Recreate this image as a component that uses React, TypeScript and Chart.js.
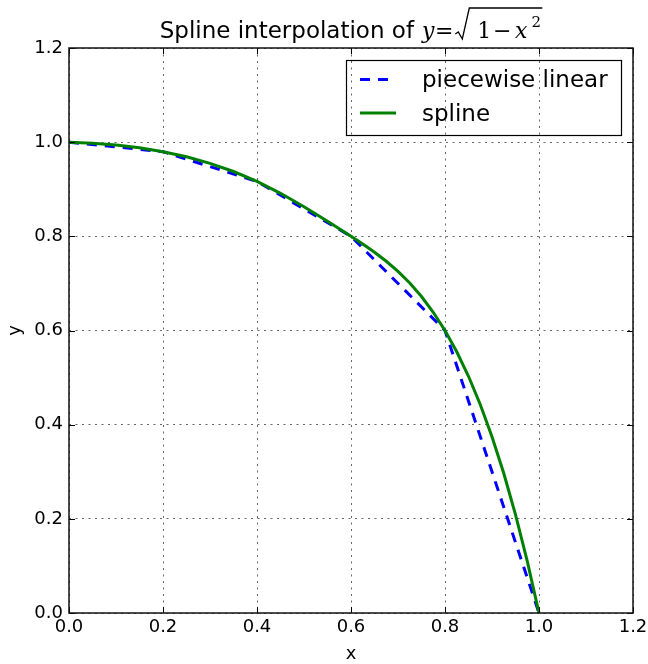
import React, { useEffect, useRef } from "react";
import { Chart, registerables } from "chart.js";

Chart.register(...registerables);

// ---- Text ----
const TITLE_TEXT = "Spline interpolation of ";
const X_LABEL = "x";
const Y_LABEL = "y";
const LEGEND_LABELS = ["piecewise linear", "spline"];

// ---- Data: sample nodes of y = sqrt(1 - x^2) (piecewise linear) ----
const nodeX = [0.0, 0.2, 0.4, 0.6, 0.8, 1.0];
const nodeY = [1.0, 0.9798, 0.9165, 0.8, 0.6, 0.0];

// ---- Data: spline curve ----
const splineX = [
  0.0, 0.05, 0.1, 0.15, 0.2, 0.25, 0.3, 0.35, 0.4, 0.45, 0.5, 0.55,
  0.6, 0.625, 0.65, 0.675, 0.7, 0.725, 0.75, 0.775,
  0.8, 0.825, 0.85, 0.875, 0.9, 0.925, 0.95, 0.975, 1.0,
];
const splineY = [
  1.0, 0.9977, 0.9938, 0.988, 0.9798, 0.9689, 0.955, 0.9377, 0.9165, 0.8914, 0.863, 0.8322,
  0.8, 0.7835, 0.7661, 0.747, 0.7255, 0.7008, 0.6722, 0.6388,
  0.6, 0.5549, 0.5028, 0.4429, 0.3745, 0.2967, 0.2089, 0.1103, 0.0,
];

// ---- Ticks ----
const tickValues = [0.0, 0.2, 0.4, 0.6, 0.8, 1.0, 1.2];
const tickLabels = ["0.0", "0.2", "0.4", "0.6", "0.8", "1.0", "1.2"];

const SANS = '"DejaVu Sans", sans-serif';
const SERIF = '"DejaVu Serif", serif';

export default function App() {
  const ref = useRef<HTMLCanvasElement>(null);

  useEffect(() => {
    const canvas = ref.current;
    if (!canvas) return;

    const framePlugin = {
      id: "frame",
      afterDraw(chart: any) {
        const { ctx, chartArea: a, scales } = chart;
        const xs = scales.x;
        const ys = scales.y;
        ctx.save();

        // inward ticks on all four sides
        ctx.strokeStyle = "#000";
        ctx.lineWidth = 1;
        ctx.setLineDash([]);
        ctx.beginPath();
        for (const v of tickValues) {
          const px = Math.round(xs.getPixelForValue(v)) + 0.5;
          ctx.moveTo(px, a.bottom);
          ctx.lineTo(px, a.bottom - 6);
          ctx.moveTo(px, a.top);
          ctx.lineTo(px, a.top + 6);
          const py = Math.round(ys.getPixelForValue(v)) + 0.5;
          ctx.moveTo(a.left, py);
          ctx.lineTo(a.left + 6, py);
          ctx.moveTo(a.right, py);
          ctx.lineTo(a.right - 6, py);
        }
        ctx.stroke();

        // frame
        ctx.lineWidth = 1.5;
        ctx.strokeStyle = "#111";
        ctx.strokeRect(a.left, a.top, a.right - a.left, a.bottom - a.top);

        // axis labels
        ctx.fillStyle = "#000";
        ctx.font = `18px ${SANS}`;
        ctx.textAlign = "center";
        ctx.textBaseline = "middle";
        ctx.fillText(X_LABEL, (a.left + a.right) / 2, 654);
        ctx.save();
        ctx.translate(15, (a.top + a.bottom) / 2);
        ctx.rotate(-Math.PI / 2);
        ctx.fillText(Y_LABEL, 0, 0);
        ctx.restore();

        // title with math part
        const cx = (a.left + a.right) / 2;
        const base = 38;
        ctx.font = `23px ${SANS}`;
        ctx.textAlign = "left";
        ctx.textBaseline = "alphabetic";
        const w1 = ctx.measureText(TITLE_TEXT).width;
        const mathW = 121;
        const start = cx - (w1 + mathW) / 2;
        ctx.fillText(TITLE_TEXT, start, base);
        const mx = start + w1;
        ctx.textAlign = "center";
        ctx.font = `italic 22px ${SERIF}`;
        ctx.fillText("y", mx + 7, base);
        ctx.font = `22px ${SERIF}`;
        ctx.fillText("=", mx + 23, base);
        ctx.fillText("1", mx + 63, base);
        ctx.fillText("\u2212", mx + 81, base);
        ctx.font = `italic 22px ${SERIF}`;
        ctx.fillText("x", mx + 100, base);
        ctx.font = `15px ${SERIF}`;
        ctx.fillText("2", mx + 115, base - 11);
        // radical sign + overline
        ctx.lineWidth = 1.3;
        ctx.strokeStyle = "#000";
        ctx.beginPath();
        ctx.moveTo(mx + 34, base - 4);
        ctx.lineTo(mx + 37, base - 6);
        ctx.lineTo(mx + 41, base + 1);
        ctx.lineTo(mx + 48, base - 30);
        ctx.lineTo(mx + 121, base - 30);
        ctx.stroke();

        // legend
        const lx = a.right - 287;
        const ly = a.top + 12;
        ctx.lineWidth = 1.2;
        ctx.strokeStyle = "#000";
        ctx.strokeRect(Math.round(lx) + 0.5, Math.round(ly) + 0.5, 275, 75);
        const sx = lx + 14;
        const rows = [
          { color: "#0000ff", dash: [10, 8], y: ly + 19.5 },
          { color: "#008000", dash: [] as number[], y: ly + 53 },
        ];
        rows.forEach((r, i) => {
          ctx.strokeStyle = r.color;
          ctx.lineWidth = 3;
          ctx.setLineDash(r.dash);
          ctx.beginPath();
          ctx.moveTo(sx, r.y);
          ctx.lineTo(sx + 36, r.y);
          ctx.stroke();
          ctx.setLineDash([]);
          ctx.fillStyle = "#000";
          ctx.font = `23px ${SANS}`;
          ctx.textAlign = "left";
          ctx.textBaseline = "alphabetic";
          ctx.fillText(LEGEND_LABELS[i], lx + 76, r.y + 7.5);
        });

        ctx.restore();
      },
    };

    const gridStyle = {
      color: "rgba(0,0,0,0.6)",
      lineWidth: 1,
      drawTicks: false,
      borderDash: [2, 4.5],
    };

    const chart = new Chart(canvas, {
      type: "line",
      data: {
        datasets: [
          {
            label: LEGEND_LABELS[1],
            data: splineX.map((x, i) => ({ x, y: splineY[i] })),
            borderColor: "#008000",
            backgroundColor: "#008000",
            borderWidth: 3,
            pointRadius: 0,
            tension: 0,
            fill: false,
            order: 0,
          },
          {
            label: LEGEND_LABELS[0],
            data: nodeX.map((x, i) => ({ x, y: nodeY[i] })),
            borderColor: "#0000ff",
            backgroundColor: "#0000ff",
            borderWidth: 3,
            borderDash: [10, 8],
            pointRadius: 0,
            tension: 0,
            fill: false,
            order: 1,
          },
        ],
      },
      options: {
        responsive: false,
        animation: false,
        devicePixelRatio: 1,
        layout: { padding: { top: 48, right: 15, left: 0, bottom: 0 } },
        plugins: {
          legend: { display: false },
          title: { display: false },
          tooltip: { enabled: false },
        },
        scales: {
          x: {
            type: "linear",
            min: 0,
            max: 1.2,
            afterBuildTicks: (s: any) => {
              s.ticks = tickValues.map((v) => ({ value: v }));
            },
            afterFit: (s: any) => {
              s.height = 51;
              s.paddingLeft = 0;
              s.paddingRight = 0;
            },
            grid: gridStyle as any,
            border: { display: false, dash: [2, 4.5] },
            ticks: {
              callback: (_v: any, i: number) => tickLabels[i],
              font: { family: "DejaVu Sans", size: 18 },
              color: "#000",
              padding: 4,
              maxRotation: 0,
              autoSkip: false,
            },
          },
          y: {
            type: "linear",
            min: 0,
            max: 1.2,
            afterBuildTicks: (s: any) => {
              s.ticks = tickValues.map((v) => ({ value: v }));
            },
            afterFit: (s: any) => {
              s.width = 69;
              s.paddingTop = 0;
              s.paddingBottom = 0;
            },
            grid: gridStyle as any,
            border: { display: false, dash: [2, 4.5] },
            ticks: {
              callback: (_v: any, i: number) => tickLabels[i],
              font: { family: "DejaVu Sans", size: 18 },
              color: "#000",
              padding: 6,
              autoSkip: false,
            },
          },
        },
      } as any,
      plugins: [framePlugin],
    });

    return () => chart.destroy();
  }, []);

  return (
    <div
      style={{
        position: "absolute",
        left: 0,
        top: 0,
        width: 648,
        height: 664,
        background: "#fff",
      }}
    >
      <canvas ref={ref} width={648} height={664} style={{ display: "block" }} />
    </div>
  );
}
